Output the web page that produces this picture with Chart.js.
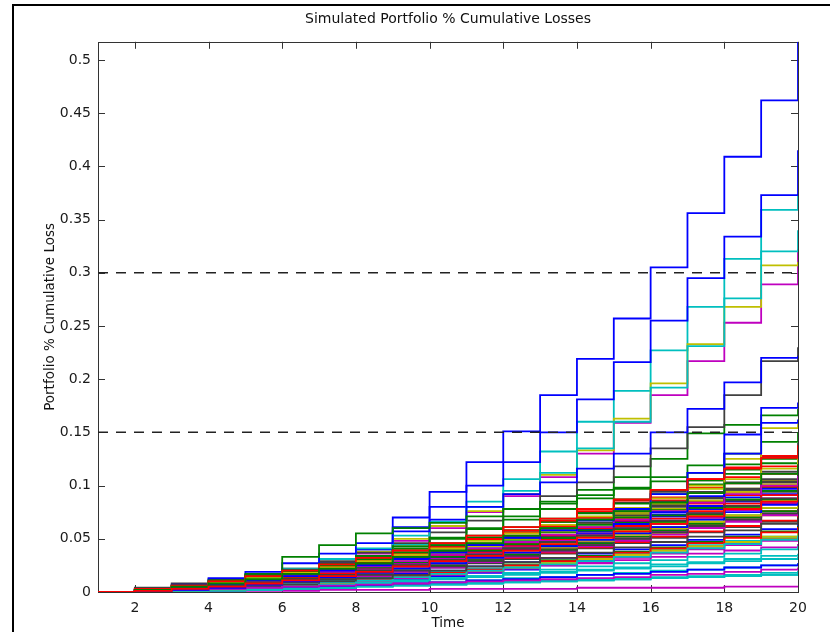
<!DOCTYPE html>
<html>
<head>
<meta charset="utf-8">
<script src="https://cdn.jsdelivr.net/npm/chart.js@4.4.1/dist/chart.umd.min.js"></script>
<style>
html,body{margin:0;padding:0;background:#fff;overflow:hidden;width:830px;height:632px;}
#frame{position:absolute;left:12px;top:4px;width:900px;height:700px;border-left:2px solid #000;border-top:2px solid #000;}
#c{position:absolute;left:0;top:0;}
</style>
</head>
<body>
<div id="frame"></div>
<canvas id="c" width="830" height="632"></canvas>
<script>
// ---- data ----
const times = [1,2,3,4,5,6,7,8,9,10,11,12,13,14,15,16,17,18,19,20];
const xTickValues = [2,4,6,8,10,12,14,16,18,20];
const yTickValues = [0,0.05,0.1,0.15,0.2,0.25,0.3,0.35,0.4,0.45,0.5];
const thresholdLevels = [0.15, 0.3];
const yMax = 0.517;
// simulated cumulative loss paths (value at each time 1..20)
const lossPaths = [
 [0,.002,.005,.009,.014,.020,.028,.040,.070,.094,.122,.151,.185,.219,.257,.305,.356,.409,.462,.517],
 [0,.001,.004,.008,.012,.018,.024,.033,.041,.050,.060,.071,.083,.096,.108,.125,.149,.157,.166,.172],
 [0,.002,.003,.006,.009,.013,.017,.021,.027,.031,.036,.042,.047,.053,.058,.064,.070,.077,.083,.090],
 [0,.001,.003,.006,.010,.015,.021,.030,.045,.062,.085,.106,.132,.160,.189,.227,.268,.313,.359,.372],
 [0,.001,.003,.007,.012,.018,.026,.036,.048,.060,.075,.090,.108,.130,.159,.185,.217,.253,.289,.322],
 [0,.001,.004,.008,.013,.020,.028,.038,.050,.062,.076,.092,.110,.133,.163,.196,.233,.268,.307,.310],
 [0,.003,.006,.011,.016,.022,.029,.037,.046,.056,.067,.078,.090,.103,.118,.135,.155,.185,.217,.230],

 [0,.002,.004,.008,.013,.019,.027,.040,.061,.080,.100,.122,.150,.181,.216,.255,.295,.334,.373,.415],
 [0,.001,.002,.005,.008,.011,.015,.019,.024,.028,.033,.039,.044,.049,.055,.061,.066,.072,.079,.083],
 [0,0,.002,.004,.006,.010,.014,.019,.025,.032,.038,.046,.053,.061,.069,.077,.085,.094,.103,.110],
 [0,.002,.004,.009,.014,.022,.031,.041,.053,.066,.080,.095,.112,.135,.160,.192,.231,.276,.320,.340],
 [0,.001,.002,.003,.005,.007,.009,.011,.014,.016,.019,.022,.025,.027,.030,.033,.036,.039,.042,.045],
 [0,.002,.004,.007,.011,.015,.020,.026,.032,.038,.044,.051,.058,.064,.071,.078,.086,.094,.101,.108],
 [0,.004,.008,.012,.016,.021,.027,.033,.039,.044,.050,.056,.062,.068,.075,.082,.089,.096,.103,.110],

 [0,.003,.007,.013,.019,.027,.036,.046,.057,.068,.080,.092,.103,.116,.130,.150,.172,.197,.220,.222],
 [0,.002,.006,.011,.017,.033,.044,.055,.060,.065,.071,.078,.085,.091,.097,.104,.112,.120,.128,.135],
 [0,.001,.002,.004,.007,.010,.013,.017,.021,.026,.031,.036,.041,.047,.052,.058,.064,.070,.076,.081],
 [0,0,.001,.002,.003,.005,.006,.008,.010,.012,.014,.016,.018,.020,.022,.024,.027,.029,.031,.033],
 [0,.001,.003,.006,.009,.012,.016,.020,.025,.030,.035,.040,.046,.052,.058,.064,.070,.077,.084,.090],
 [0,.001,.002,.004,.006,.009,.012,.016,.020,.024,.029,.034,.039,.044,.050,.055,.061,.067,.072,.077],
 [0,.002,.005,.009,.013,.018,.024,.030,.036,.043,.050,.058,.066,.075,.084,.094,.105,.116,.127,.140],

 [0,.001,.002,.003,.004,.006,.008,.010,.012,.015,.018,.021,.025,.029,.033,.037,.041,.045,.050,.055],
 [0,.002,.004,.007,.011,.015,.020,.025,.031,.037,.043,.049,.056,.063,.070,.077,.084,.091,.098,.105],
 [0,.003,.006,.010,.014,.019,.024,.030,.036,.042,.049,.056,.063,.070,.078,.086,.094,.102,.111,.120],
 [0,0,.001,.002,.003,.004,.005,.006,.007,.008,.009,.010,.011,.012,.013,.014,.015,.016,.018,.020],
 [0,.002,.004,.006,.009,.012,.015,.019,.023,.027,.032,.037,.042,.047,.052,.057,.062,.068,.073,.079],
 [0,.001,.003,.005,.008,.011,.015,.019,.024,.029,.034,.040,.046,.052,.058,.065,.072,.079,.086,.093],
 [0,.001,.002,.004,.006,.009,.012,.015,.019,.023,.027,.031,.036,.041,.046,.051,.056,.061,.066,.071],

 [0,.002,.002,.006,.010,.010,.016,.023,.028,.035,.041,.041,.049,.058,.064,.071,.080,.086,.095,.101],
 [0,.001,.005,.009,.013,.019,.026,.034,.043,.051,.059,.068,.078,.088,.098,.108,.119,.130,.141,.150],
 [0,.003,.005,.005,.009,.014,.020,.025,.032,.039,.045,.053,.062,.070,.079,.089,.098,.108,.118,.126],
 [0,0,0,.001,.002,.003,.004,.006,.008,.009,.011,.013,.014,.016,.018,.020,.021,.023,.025,.027],
 [0,0,0,.001,.001,.001,.002,.002,.002,.003,.003,.003,.003,.004,.004,.004,.004,.005,.005,.005],
 [0,.002,.005,.008,.012,.016,.021,.027,.033,.039,.046,.053,.060,.067,.074,.081,.089,.097,.105,.113],
 [0,.001,.003,.006,.010,.014,.019,.025,.031,.037,.044,.051,.058,.065,.073,.081,.089,.097,.106,.115],

 [0,0,.002,.005,.008,.012,.016,.021,.026,.032,.038,.044,.050,.057,.064,.071,.078,.085,.092,.099],
 [0,.002,.005,.009,.014,.019,.025,.031,.037,.044,.051,.058,.066,.074,.083,.092,.101,.111,.121,.131],
 [0,.001,.003,.005,.007,.010,.013,.016,.020,.024,.028,.032,.037,.042,.047,.052,.057,.062,.067,.072],
 [0,.001,.002,.003,.004,.005,.007,.009,.011,.013,.015,.017,.019,.021,.023,.026,.028,.031,.034,.036],
 [0,.001,.003,.005,.008,.011,.014,.018,.022,.026,.030,.035,.040,.045,.050,.056,.061,.067,.073,.079],
 [0,.002,.004,.006,.009,.013,.017,.022,.028,.034,.040,.047,.054,.061,.068,.076,.084,.092,.100,.108],
 [0,.002,.004,.007,.010,.014,.018,.023,.028,.033,.039,.045,.051,.058,.065,.072,.079,.086,.094,.102],

 [0,.001,.002,.004,.006,.008,.011,.014,.017,.020,.024,.028,.032,.036,.040,.044,.049,.054,.059,.064],
 [0,.001,.002,.004,.007,.010,.013,.017,.021,.025,.030,.035,.040,.046,.052,.058,.064,.070,.076,.083],
 [0,.002,.005,.008,.012,.017,.022,.028,.035,.042,.050,.058,.067,.076,.086,.096,.106,.117,.128,.138],
 [0,0,.001,.001,.002,.003,.004,.005,.006,.007,.008,.009,.010,.011,.012,.013,.014,.015,.016,.017],
 [0,.001,.002,.004,.006,.009,.012,.015,.019,.023,.028,.033,.038,.043,.048,.054,.060,.066,.072,.078],
 [0,.001,.002,.003,.005,.007,.009,.012,.015,.018,.021,.024,.027,.031,.035,.039,.043,.047,.051,.056],
 [0,.001,.004,.007,.011,.015,.020,.026,.032,.038,.045,.052,.060,.068,.076,.085,.094,.103,.113,.123],

 [0,.001,.003,.006,.009,.013,.017,.022,.027,.033,.039,.045,.052,.059,.066,.073,.081,.089,.097,.105],
 [0,.001,.002,.003,.005,.007,.010,.013,.016,.019,.022,.026,.030,.034,.038,.042,.047,.052,.057,.062],
 [0,.002,.004,.007,.010,.014,.018,.023,.028,.034,.040,.046,.053,.060,.067,.075,.083,.091,.099,.108],
 [0,.001,.002,.004,.006,.008,.010,.013,.016,.019,.022,.025,.028,.032,.036,.040,.044,.048,.052,.056],
 [0,0,.001,.002,.004,.006,.008,.010,.013,.016,.019,.022,.025,.028,.032,.036,.040,.044,.048,.052],
 [0,.001,.003,.006,.010,.014,.019,.024,.030,.036,.043,.050,.057,.065,.073,.083,.100,.125,.154,.158],
 [0,.002,.005,.008,.012,.016,.021,.026,.032,.038,.044,.051,.058,.065,.072,.080,.088,.096,.104,.112],

 [0,.001,.001,.002,.003,.004,.005,.006,.008,.009,.011,.012,.014,.016,.017,.019,.021,.023,.025,.027],
 [0,.002,.004,.007,.010,.014,.018,.023,.028,.033,.039,.045,.051,.058,.065,.072,.079,.087,.095,.103],
 [0,.001,.003,.006,.009,.013,.017,.021,.026,.031,.037,.043,.049,.055,.062,.069,.076,.083,.091,.099],
 [0,0,.001,.002,.002,.003,.004,.005,.006,.007,.008,.009,.010,.011,.012,.013,.014,.015,.016,.018],
 [0,.002,.004,.007,.011,.015,.019,.024,.029,.035,.041,.047,.054,.061,.068,.076,.084,.092,.100,.109],
 [0,0,.001,.002,.004,.006,.008,.011,.014,.017,.020,.023,.027,.031,.035,.039,.043,.047,.052,.057],
 [0,.001,.002,.004,.006,.009,.012,.016,.020,.024,.029,.034,.039,.044,.050,.056,.062,.068,.074,.081],

 [0,.001,.003,.005,.008,.011,.015,.019,.024,.029,.034,.040,.047,.055,.064,.075,.090,.130,.159,.162],
 [0,.002,.006,.010,.015,.020,.026,.032,.039,.046,.053,.061,.069,.078,.087,.096,.105,.115,.125,.135],
 [0,.001,.002,.003,.005,.007,.009,.012,.015,.018,.021,.025,.029,.033,.037,.041,.046,.051,.056,.061],
 [0,.001,.002,.003,.005,.007,.009,.011,.014,.017,.020,.023,.026,.029,.033,.037,.041,.045,.049,.053],
 [0,.001,.003,.006,.009,.012,.016,.021,.026,.031,.036,.042,.048,.054,.060,.067,.074,.081,.088,.095],
 [0,.002,.005,.009,.013,.018,.023,.029,.035,.041,.048,.055,.063,.071,.079,.088,.097,.106,.116,.126],
 [0,.001,.002,.003,.005,.007,.010,.013,.016,.020,.024,.028,.032,.037,.042,.047,.052,.058,.064,.070],

 [0,.002,.004,.007,.011,.015,.020,.025,.031,.037,.044,.051,.058,.067,.078,.092,.112,.148,.173,.178],
 [0,.001,.003,.005,.008,.012,.016,.020,.025,.030,.035,.041,.047,.053,.059,.066,.073,.080,.087,.094],
 [0,.003,.006,.010,.015,.020,.026,.032,.039,.046,.053,.061,.069,.078,.087,.096,.106,.116,.126,.136],
 [0,0,.001,.002,.003,.005,.007,.009,.011,.013,.015,.018,.021,.024,.027,.030,.033,.036,.040,.043],
 [0,.001,.002,.003,.004,.005,.006,.007,.008,.009,.010,.011,.012,.013,.014,.016,.017,.019,.021,.023],
 [0,.001,.003,.005,.008,.011,.014,.018,.022,.027,.032,.037,.042,.048,.054,.060,.066,.072,.079,.086],
 [0,.002,.004,.006,.009,.012,.016,.020,.025,.030,.035,.041,.047,.053,.060,.067,.074,.081,.088,.096],

 [0,.001,.002,.004,.007,.010,.014,.018,.022,.027,.032,.037,.043,.049,.055,.061,.068,.075,.082,.089],
 [0,.002,.005,.008,.012,.017,.022,.027,.033,.039,.046,.053,.060,.068,.076,.084,.093,.102,.111,.120],
 [0,.001,.003,.005,.008,.011,.015,.019,.024,.029,.034,.039,.045,.051,.057,.064,.071,.078,.085,.092]
];

// ---- style ----
const matlabColors = ['#0000ff','#008000','#ff0000','#00bfbf','#bf00bf','#bfbf00','#404040'];
const FONT = 'DejaVu Sans';

const datasets = lossPaths.map((vals, i) => ({
  data: vals.map((v, j) => ({x: times[j], y: v})),
  borderColor: matlabColors[i % matlabColors.length],
  borderWidth: 1.8,
  stepped: 'before',
  pointRadius: 0,
  fill: false,
  order: lossPaths.length - i + 1
}));
thresholdLevels.forEach(level => {
  datasets.push({
    data: [{x: times[0], y: level}, {x: times[times.length - 1], y: level}],
    borderColor: '#222',
    borderWidth: 1.5,
    borderDash: [10, 8],
    pointRadius: 0,
    fill: false,
    order: 0
  });
});

const boxPlugin = {
  id: 'matlabBox',
  beforeDatasetsDraw(chart) {
    const {ctx, chartArea: {left, right, top, bottom}, scales: {x, y}} = chart;
    ctx.save();
    ctx.strokeStyle = '#333';
    ctx.lineWidth = 1;
    ctx.strokeRect(Math.round(left) + 0.5, Math.round(top) + 0.5, Math.round(right - left), Math.round(bottom - top));
    ctx.beginPath();
    const L = 7;
    xTickValues.forEach(v => {
      const px = Math.round(x.getPixelForValue(v)) + 0.5;
      ctx.moveTo(px, bottom); ctx.lineTo(px, bottom - L);
      ctx.moveTo(px, top); ctx.lineTo(px, top + L);
    });
    yTickValues.forEach(v => {
      const py = Math.round(y.getPixelForValue(v)) + 0.5;
      ctx.moveTo(left, py); ctx.lineTo(left + L, py);
      ctx.moveTo(right, py); ctx.lineTo(right - L, py);
    });
    ctx.stroke();
    ctx.restore();
  }
};

new Chart(document.getElementById('c'), {
  type: 'line',
  data: {datasets},
  plugins: [boxPlugin],
  options: {
    responsive: false,
    animation: false,
    devicePixelRatio: 1,
    layout: {padding: {left: 0, right: 32, top: 0, bottom: 0}},
    plugins: {
      legend: {display: false},
      tooltip: {enabled: false},
      title: {
        display: true,
        text: 'Simulated Portfolio % Cumulative Losses',
        fullSize: false,
        color: '#111',
        font: {family: FONT, size: 14, weight: 'normal'},
        padding: {top: 11, bottom: 14}
      }
    },
    scales: {
      x: {
        type: 'linear',
        min: 1, max: 20,
        afterBuildTicks: s => { s.ticks = xTickValues.map(v => ({value: v})); },
        afterFit: s => { s.height = 40; },
        grid: {display: false, drawTicks: false},
        border: {display: false},
        ticks: {padding: 8, color: '#1a1a1a', font: {family: FONT, size: 14}, maxRotation: 0, autoSkip: false,
                callback: v => String(v)},
        title: {display: true, text: 'Time', color: '#111', font: {family: FONT, size: 13.5}, padding: {top: 0, bottom: 0}}
      },
      y: {
        type: 'linear',
        min: 0, max: yMax,
        afterBuildTicks: s => { s.ticks = yTickValues.map(v => ({value: v})); },
        afterFit: s => { s.width = 98; },
        grid: {display: false, drawTicks: false},
        border: {display: false},
        ticks: {padding: 7, color: '#1a1a1a', font: {family: FONT, size: 14}, autoSkip: false,
                callback: v => String(+Number(v).toFixed(2))},
        title: {display: true, text: 'Portfolio % Cumulative Loss', color: '#111', font: {family: FONT, size: 13.5}, padding: {top: 42, bottom: 0}}
      }
    }
  }
});
</script>
</body>
</html>
